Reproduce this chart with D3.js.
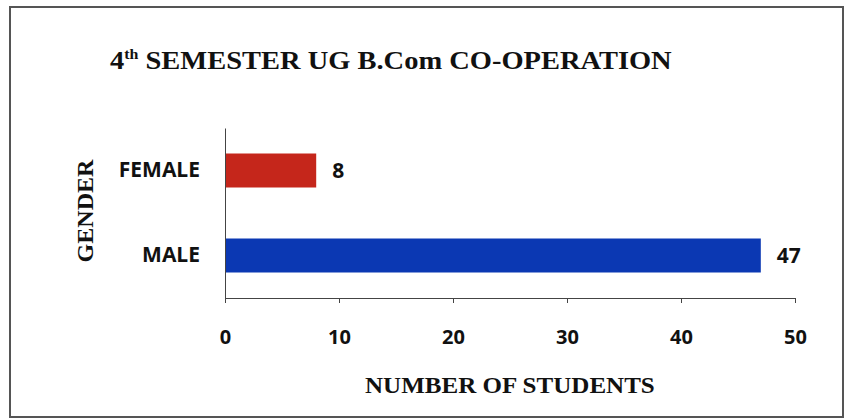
<!DOCTYPE html>
<html><head><meta charset="utf-8">
<script src="https://cdn.jsdelivr.net/npm/d3@7"></script>
<style>body{margin:0;background:#fff}svg{display:block}</style>
</head><body>
<script>
const categories = ["FEMALE", "MALE"];
const values = [8, 47];
const colors = ["#c5261b", "#0b38b3"];
const xTicks = [0, 10, 20, 30, 40, 50];
const titleMain = "SEMESTER UG B.Com CO-OPERATION";
const xTitle = "NUMBER OF STUDENTS";
const yTitle = "GENDER";

const W = 849, H = 419;
const serif = "'Liberation Serif', 'Times New Roman', serif";
const sans = "'Open Sans', sans-serif";
const svg = d3.select("body").append("svg").attr("width", W).attr("height", H);
svg.append("rect").attr("x", 10).attr("y", 7).attr("width", 833).attr("height", 410)
  .attr("fill", "#fff").attr("stroke", "#555").attr("stroke-width", 2);

const x = d3.scaleLinear().domain([0, 50]).range([225, 795]);
const y = d3.scaleBand().domain(categories).range([128, 298]).paddingInner(0.6).paddingOuter(0.3);

// fit a text group horizontally to a target width
function fitWidth(g, left, baseline, target, anchorMiddle) {
  const w = g.node().getBBox().width;
  const s = target / w;
  const tx = anchorMiddle ? left - target / 2 : left;
  g.attr("transform", `translate(${tx},${baseline}) scale(${s},1)`);
}

// title
const tg = svg.append("g");
const t = tg.append("text").attr("x", 0).attr("y", 0)
  .attr("font-family", serif).attr("font-weight", "bold")
  .attr("font-size", 25).attr("fill", "#111");
t.append("tspan").text("4");
t.append("tspan").attr("font-size", 14).attr("dy", -10).text("th");
t.append("tspan").attr("dy", 10).text(" " + titleMain);
fitWidth(tg, 110, 69, 562, false);

// bars
svg.selectAll("rect.bar").data(categories).enter().append("rect").attr("class", "bar")
  .attr("x", x(0)).attr("y", d => y(d)).attr("height", y.bandwidth())
  .attr("width", (d, i) => x(values[i]) - x(0)).attr("fill", (d, i) => colors[i]);

// value labels
svg.selectAll("text.val").data(categories).enter().append("text").attr("class", "val")
  .attr("x", (d, i) => x(values[i]) + 16).attr("y", d => y(d) + y.bandwidth() / 2)
  .attr("dy", "0.36em").attr("font-family", sans).attr("font-weight", "bold")
  .attr("font-size", 21).attr("fill", "#111").text((d, i) => values[i]);

// axes
const xAxis = svg.append("g").attr("transform", "translate(0,298)")
  .call(d3.axisBottom(x).tickValues(xTicks).tickSize(5).tickPadding(27));
xAxis.select(".domain").attr("stroke", "#444");
xAxis.selectAll(".tick line").attr("stroke", "#444");
xAxis.selectAll("text").attr("font-family", sans).attr("font-weight", "bold")
  .attr("font-size", 20).attr("fill", "#111");

const yAxis = svg.append("g").attr("transform", "translate(225,0)")
  .call(d3.axisLeft(y).tickSize(0).tickPadding(25));
yAxis.select(".domain").attr("stroke", "#444");
yAxis.selectAll("text").attr("font-family", sans).attr("font-weight", "bold")
  .attr("font-size", 21).attr("fill", "#111");

// x title
const xg = svg.append("g");
xg.append("text").attr("font-family", serif).attr("font-weight", "bold")
  .attr("font-size", 23).attr("fill", "#111").text(xTitle);
fitWidth(xg, 510, 393, 290, true);

// y title
svg.append("text").attr("transform", "translate(93,211) rotate(-90)").attr("text-anchor", "middle")
  .attr("font-family", serif).attr("font-weight", "bold")
  .attr("font-size", 24).attr("fill", "#111").attr("textLength", 103)
  .attr("lengthAdjust", "spacingAndGlyphs").text(yTitle);
</script>
</body></html>
